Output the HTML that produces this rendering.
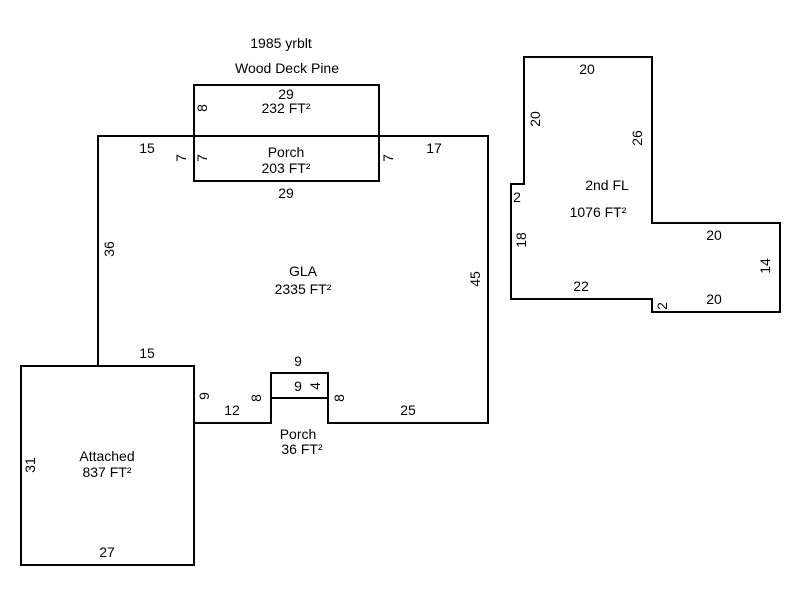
<!DOCTYPE html>
<html><head><style>body{margin:0;background:#fff}svg{display:block}text{font-family:"Liberation Sans",Arial,sans-serif;font-size:14px;fill:#000}</style></head>
<body>
<svg width="800" height="600" viewBox="0 0 800 600">
<g fill="none" stroke="#000" stroke-width="2">
<polygon points="98,136 488,136 488,423 328,423 328,373 271,373 271,423 194,423 194,366 98,366"/>
<line x1="271" y1="398" x2="328" y2="398"/>
<rect x="21" y="366" width="173" height="199"/>
<rect x="194" y="85" width="185" height="51"/>
<rect x="194" y="136" width="185" height="45"/>
<polygon points="524,57 652,57 652,223 780,223 780,312 652,312 652,299 511,299 511,184 524,184"/>
</g>
<g text-anchor="middle">
<text x="281" y="48">1985 yrblt</text>
<text x="287" y="73">Wood Deck Pine</text>
<text x="286" y="99">29</text>
<text x="286" y="113">232 FT²</text>
<text x="286" y="157">Porch</text>
<text x="286" y="173">203 FT²</text>
<text x="286" y="198">29</text>
<text x="147" y="153">15</text>
<text x="434" y="153">17</text>
<text x="303" y="276">GLA</text>
<text x="303" y="294">2335 FT²</text>
<text x="147" y="358">15</text>
<text x="298" y="366">9</text>
<text x="298" y="391">9</text>
<text x="232" y="415">12</text>
<text x="408" y="415">25</text>
<text x="298" y="439">Porch</text>
<text x="302" y="454">36 FT²</text>
<text x="107" y="461">Attached</text>
<text x="107" y="477">837 FT²</text>
<text x="107" y="557">27</text>
<text x="587" y="74">20</text>
<text x="607" y="190">2nd FL</text>
<text x="598" y="217">1076 FT²</text>
<text x="714" y="240">20</text>
<text x="581" y="291">22</text>
<text x="714" y="304">20</text>
<text x="517" y="202">2</text>
</g>
<g text-anchor="middle">
<text transform="translate(207,108) rotate(-90)">8</text>
<text transform="translate(186,158) rotate(-90)">7</text>
<text transform="translate(207,158) rotate(-90)">7</text>
<text transform="translate(393,158) rotate(-90)">7</text>
<text transform="translate(114,249) rotate(-90)">36</text>
<text transform="translate(480,279) rotate(-90)">45</text>
<text transform="translate(209,396) rotate(-90)">9</text>
<text transform="translate(261,398) rotate(-90)">8</text>
<text transform="translate(344,398) rotate(-90)">8</text>
<text transform="translate(320,386) rotate(-90)">4</text>
<text transform="translate(35,465) rotate(-90)">31</text>
<text transform="translate(540,119) rotate(-90)">20</text>
<text transform="translate(642,138) rotate(-90)">26</text>
<text transform="translate(526,240) rotate(-90)">18</text>
<text transform="translate(770,266) rotate(-90)">14</text>
<text transform="translate(667,306) rotate(-90)">2</text>
</g>
</svg>
</body></html>
